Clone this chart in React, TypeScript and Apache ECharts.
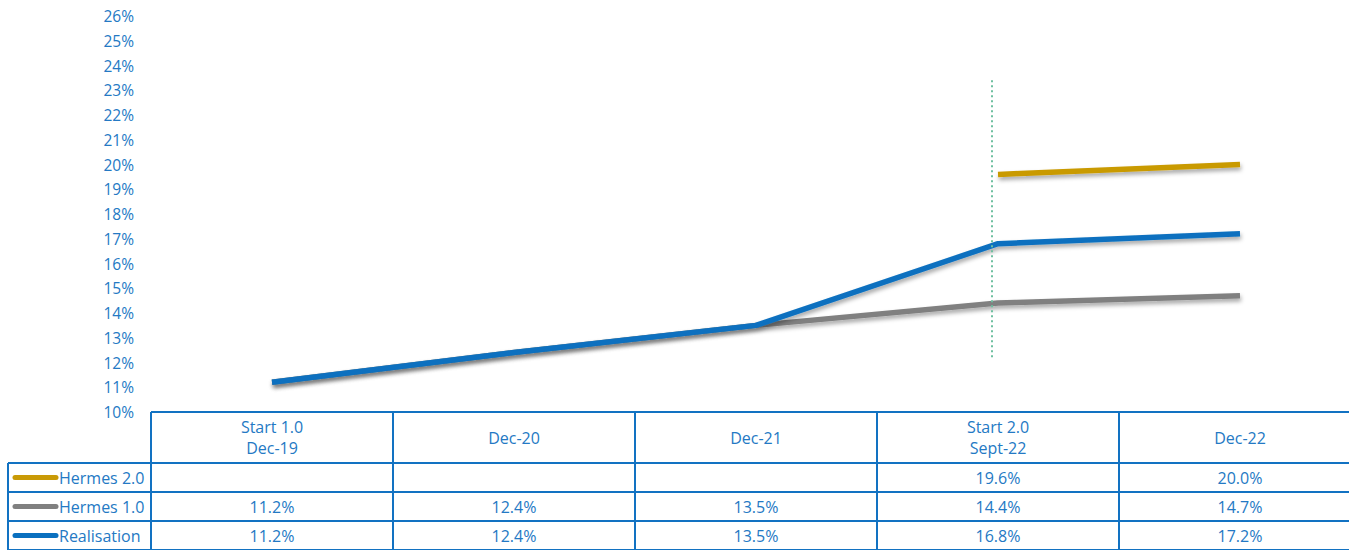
import React, { useEffect, useRef } from "react";
import * as echarts from "echarts";

const categories = ["Start 1.0\nDec-19", "Dec-20", "Dec-21", "Start 2.0\nSept-22", "Dec-22"];
const hermes2: (number | null)[] = [null, null, null, 19.6, 20.0];
const hermes1: number[] = [11.2, 12.4, 13.5, 14.4, 14.7];
const realisation: number[] = [11.2, 12.4, 13.5, 16.8, 17.2];
const seriesNames = ["Hermes 2.0", "Hermes 1.0", "Realisation"];
const yMin = 10;
const yMax = 26;
const yStep = 1;
const markerX = 2.975;
const markerFrom = 23.4;
const markerTo = 12.1;

const BLUE_TEXT = "#2479C4";
const BORDER = "#1272C2";
const COLORS: Record<string, string> = {
  "Hermes 2.0": "#C99A06",
  "Hermes 1.0": "#808080",
  Realisation: "#0A70BF",
};
const FONT = '16px "Open Sans", sans-serif';

export default function App() {
  const ref = useRef<HTMLDivElement>(null);
  useEffect(() => {
    if (!ref.current) return;
    const chart = echarts.init(ref.current, null, { renderer: "svg" });

    const left = 151;
    const top = 16;
    const plotH = 396;
    const colW = 242;
    const plotW = colW * categories.length;
    const tableTop = top + plotH;
    const headerH = 51;
    const rowH = 29;
    const legendLeft = 8;
    const rowsData: Record<string, (number | null)[]> = {
      "Hermes 2.0": hermes2,
      "Hermes 1.0": hermes1,
      Realisation: realisation,
    };

    const g: any[] = [];
    const line = (x1: number, y1: number, x2: number, y2: number) =>
      g.push({ type: "line", shape: { x1, y1, x2, y2 }, style: { stroke: BORDER, lineWidth: 2 }, z: 10 });
    const tableBottom = tableTop + headerH + rowH * seriesNames.length;
    line(left, tableTop, left + plotW, tableTop);
    for (let r = 0; r <= seriesNames.length; r++) {
      const y = tableTop + headerH + r * rowH;
      line(legendLeft, y, left + plotW, y);
    }
    for (let c = 0; c <= categories.length; c++) {
      const x = left + c * colW;
      line(x, tableTop, x, tableBottom);
    }
    line(legendLeft, tableTop + headerH, legendLeft, tableBottom);

    categories.forEach((cat, i) => {
      g.push({
        type: "text",
        x: left + i * colW + colW / 2,
        y: tableTop + headerH / 2,
        style: { text: cat, fill: BLUE_TEXT, font: FONT, textAlign: "center", textVerticalAlign: "middle", lineHeight: 21 },
        z: 11,
      });
    });
    seriesNames.forEach((name, r) => {
      const cy = tableTop + headerH + r * rowH + rowH / 2;
      g.push({
        type: "line",
        shape: { x1: 15, y1: cy, x2: 56, y2: cy },
        style: { stroke: COLORS[name], lineWidth: 5, lineCap: "round" },
        z: 11,
      });
      g.push({
        type: "text",
        x: 59,
        y: cy,
        style: { text: name, fill: BLUE_TEXT, font: FONT, textAlign: "left", textVerticalAlign: "middle" },
        z: 11,
      });
      rowsData[name].forEach((v, i) => {
        if (v == null) return;
        g.push({
          type: "text",
          x: left + i * colW + colW / 2,
          y: cy,
          style: { text: v.toFixed(1) + "%", fill: BLUE_TEXT, font: FONT, textAlign: "center", textVerticalAlign: "middle" },
          z: 11,
        });
      });
    });

    const shadow = { shadowColor: "rgba(0,0,0,0.35)", shadowBlur: 4, shadowOffsetX: 1, shadowOffsetY: 3 };

    chart.setOption({
      animation: false,
      grid: { left, top, width: plotW, height: plotH, containLabel: false },
      xAxis: [
        {
          type: "category",
          data: categories,
          boundaryGap: true,
          axisLine: { show: false },
          axisTick: { show: false },
          axisLabel: { show: false },
          splitLine: { show: false },
        },
        { type: "value", min: -0.5, max: categories.length - 0.5, show: false },
      ],
      yAxis: {
        type: "value",
        min: yMin,
        max: yMax,
        interval: yStep,
        axisLine: { show: false },
        axisTick: { show: false },
        splitLine: { show: false },
        axisLabel: {
          formatter: (v: number) => v + "%",
          color: BLUE_TEXT,
          fontFamily: '"Open Sans", sans-serif',
          fontSize: 15.5,
          margin: 17,
        },
      },
      series: [
        {
          name: "Hermes 1.0",
          type: "line",
          data: hermes1,
          symbol: "none",
          lineStyle: { color: COLORS["Hermes 1.0"], width: 5.5, ...shadow },
          z: 2,
        },
        {
          name: "Hermes 2.0",
          type: "line",
          data: hermes2,
          symbol: "none",
          lineStyle: { color: COLORS["Hermes 2.0"], width: 5.5, ...shadow },
          z: 3,
        },
        {
          name: "Realisation",
          type: "line",
          data: realisation,
          symbol: "none",
          lineStyle: { color: COLORS.Realisation, width: 5.5, ...shadow },
          z: 4,
        },
        {
          name: "marker",
          type: "line",
          xAxisIndex: 1,
          data: [],
          symbol: "none",
          markLine: {
            silent: true,
            symbol: "none",
            label: { show: false },
            lineStyle: { color: "#6DBF9F", type: [2, 3], width: 2 },
            data: [[{ coord: [markerX, markerFrom] }, { coord: [markerX, markerTo] }]],
          },
          z: 1,
        },
      ],
      graphic: g,
    });
    return () => chart.dispose();
  }, []);
  return (
    <div style={{ position: "fixed", left: 0, top: 0, width: 1349, height: 550, overflow: "hidden", background: "#fff" }}>
      <div ref={ref} style={{ width: 1380, height: 550 }} />
    </div>
  );
}
